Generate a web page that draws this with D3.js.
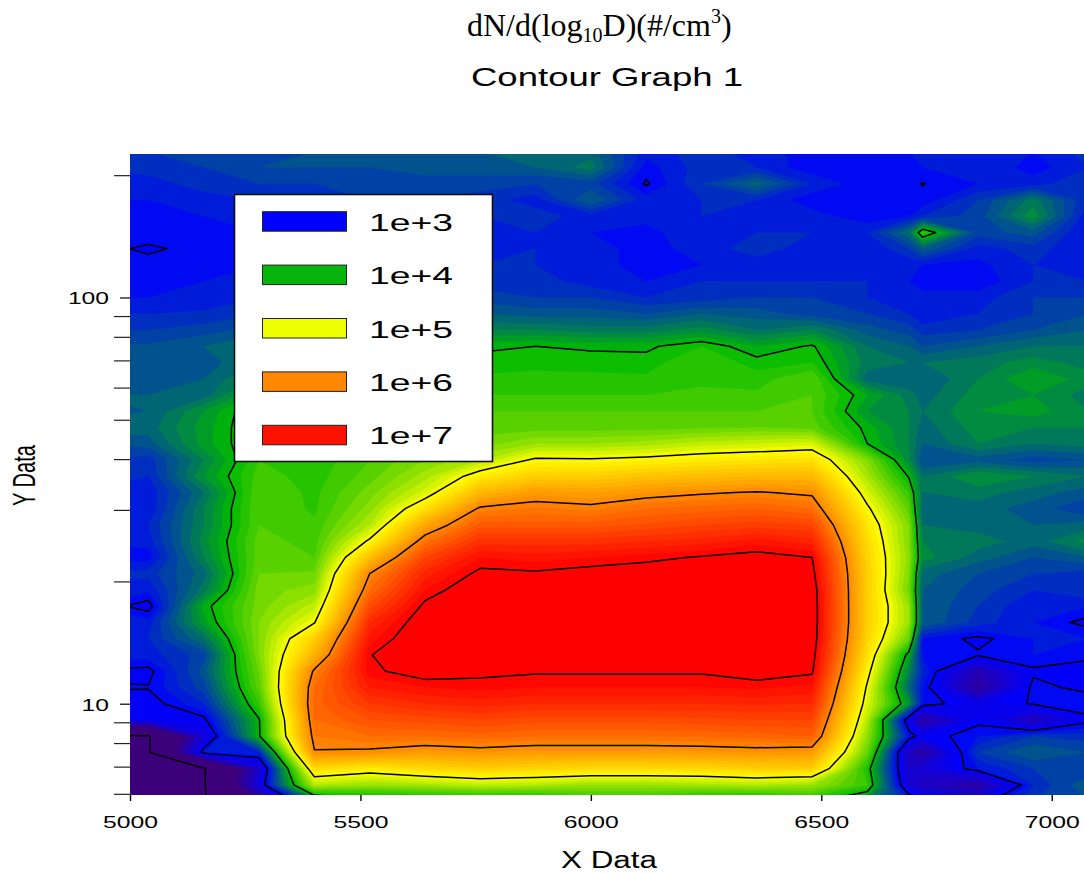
<!DOCTYPE html>
<html><head><meta charset="utf-8">
<script src="https://cdn.jsdelivr.net/npm/d3@7/dist/d3.min.js"></script>
<style>html,body{margin:0;padding:0;background:#fff}svg{display:block}</style>
</head><body><svg id="c" width="1084" height="873"></svg>
<script>
const titleTop = ["dN/d(log", "10", "D)(#/cm", "3", ")"];
const titleMain = "Contour Graph 1";
const xLabel = "X Data";
const yLabel = "Y Data";
const xTickValues = [5000, 5500, 6000, 6500, 7000];
const yMajorTicks = [10, 100];
const yMinorTicks = [6, 7, 8, 9, 20, 30, 40, 50, 60, 70, 80, 90, 200];
const legendLabels = ["1e+3", "1e+4", "1e+5", "1e+6", "1e+7"];
const legendColors = ["#0000ff", "#05b50c", "#eeff00", "#ff8800", "#ff1100"];
const lineLevels = [1.05, 3, 4, 5, 6, 7];
const colorLevels = [2, 3, 4, 5, 6, 7];
const colorStops = ["#3c007a", "#0000ff", "#00b900", "#ffff00", "#ff8800", "#ff0000"];

// sampled positions of the grid
const xValues = [4920, 5040, 5160, 5280, 5400, 5520, 5640, 5760, 5880, 6000, 6120, 6240, 6360, 6480, 6600, 6690, 6720, 6840, 6960, 7080];
const yValues = [5.75, 6.31, 6.92, 7.59, 8.32, 9.12, 10, 10.96, 12.02, 13.18, 14.45, 15.85, 17.38, 19.05, 20.89, 22.91, 25.12, 27.54, 30.2, 33.11, 36.31, 39.81, 43.65, 47.86, 52.48, 57.54, 63.1, 69.18, 75.86, 83.18, 91.2, 100, 109.6, 120.2, 131.8, 144.5, 158.5, 173.8, 190.5, 208.9, 229.1];
// log10 of dN/d(log10 D), one line for each entry of yValues
const logN = [
[1,1,1,2.0,3.6,3.8,3.85,3.85,3.85,4.1,4.1,3.9,3.85,4.05,3.7,3.2,3.1,2.9,3.3,3.4],
[1,1,1,2.8,4.7,4.6,4.65,4.75,4.7,4.6,4.6,4.65,4.7,4.6,4.2,2.7,2.5,2.3,3.2,3.5],
[1,1,1,2.6,5.3,5.15,5.3,5.4,5.35,5.3,5.3,5.3,5.4,5.4,4.1,2.6,2.7,3.1,3.3,3.3],
[1,1,3.1,3.2,5.98,5.95,5.85,5.9,5.85,5.85,5.85,5.87,5.9,5.85,4.4,2.5,2.3,3.3,3.5,3.4],
[1,1,2.7,3.97,6.1,6.2,6.2,6.25,6.2,6.2,6.2,6.22,6.25,6.3,4.55,3.1,2.9,3.1,3.3,3.25],
[2.9,2.9,2.95,3.98,6.2,6.4,6.45,6.5,6.45,6.45,6.45,6.47,6.5,6.5,4.7,2.8,2.3,2.95,2.45,2.95],
[2.95,2.92,3.2,4.2,6.25,6.6,6.7,6.75,6.7,6.7,6.7,6.7,6.72,6.7,4.85,3.8,3.1,2.85,3.02,3.1],
[3.01,3.01,3.35,4.35,6.2,6.8,6.9,6.93,6.9,6.9,6.9,6.9,6.92,6.87,4.95,3.55,3.1,2.25,3.05,2.95],
[2.98,2.95,3.45,4.4,6.05,6.96,7.1,7.05,7.02,7.02,7.02,7.02,7.1,7.03,5.1,3.7,3.2,2.4,2.97,2.9],
[3.15,3.15,3.35,4.5,5.65,6.99,7.2,7.2,7.15,7.15,7.15,7.15,7.2,7.1,5.25,3.9,3.1,3.02,3.1,3.05],
[3.15,3.2,3.6,4.5,5.4,6.85,7.2,7.3,7.25,7.27,7.27,7.27,7.3,7.15,5.35,4.4,3.1,2.96,3.1,3.1],
[3.1,3.15,3.85,4.5,4.98,6.7,7.15,7.32,7.3,7.32,7.33,7.35,7.37,7.17,5.4,4.6,3.5,3.25,3.1,2.95],
[3.1,2.93,3.93,4.45,4.75,6.45,7.05,7.25,7.27,7.28,7.3,7.33,7.36,7.17,5.4,4.6,3.5,3.3,3.1,3.1],
[3.12,3.12,3.65,4.45,4.55,6.2,6.9,7.17,7.17,7.2,7.22,7.27,7.3,7.15,5.4,4.45,3.5,3.35,3.2,3.3],
[3.2,3.25,3.55,4.4,4.42,6.0,6.75,7.05,7.03,7.08,7.12,7.17,7.2,7.08,5.4,4.5,3.55,3.4,3.3,3.25],
[3.08,3.05,3.7,4.35,4.3,5.55,6.5,6.9,6.85,6.9,6.95,7.02,7.08,7.0,5.35,4.55,3.75,3.55,3.4,3.5],
[3.1,3.15,3.75,4.35,4.25,5.05,6.15,6.65,6.65,6.65,6.7,6.75,6.85,6.75,5.3,4.5,3.7,3.65,3.55,3.75],
[3.2,3.2,3.7,4.3,4.22,4.7,5.75,6.35,6.35,6.35,6.42,6.5,6.55,6.5,5.2,4.5,3.6,3.55,3.5,3.55],
[3.12,3.12,3.7,4.3,4.18,4.55,5.25,6.05,6.12,6.07,6.2,6.25,6.3,6.2,5.05,4.35,3.55,3.55,3.45,3.3],
[3.2,3.12,3.6,4.3,4.17,4.45,4.85,5.6,5.85,5.8,5.9,5.97,6.02,5.95,4.85,4.2,3.6,3.65,3.55,3.45],
[3.2,3.2,3.8,4.25,4.15,4.35,4.65,5.15,5.4,5.4,5.5,5.55,5.6,5.6,4.65,3.98,3.6,3.8,3.7,3.6],
[3.3,3.25,3.7,4.2,4.13,4.3,4.5,4.7,5.05,5.03,5.08,5.15,5.2,5.25,4.5,3.74,3.4,3.45,3.35,3.4],
[3.4,3.45,3.85,4.15,4.12,4.25,4.4,4.45,4.6,4.6,4.65,4.75,4.8,4.85,4.0,3.7,3.5,3.7,3.6,3.65],
[3.55,3.55,3.85,4.15,4.15,4.25,4.35,4.35,4.35,4.35,4.35,4.38,4.4,4.35,3.95,3.7,3.55,3.75,3.7,3.7],
[3.45,3.5,3.8,4.15,4.12,4.2,4.3,4.3,4.3,4.3,4.3,4.3,4.3,4.3,3.8,3.7,3.6,3.8,3.85,3.7],
[3.5,3.5,3.55,3.95,4.1,4.15,4.2,4.2,4.2,4.2,4.2,4.22,4.22,4.3,3.9,3.65,3.55,3.75,3.8,3.65],
[3.45,3.45,3.5,3.75,3.95,4.1,4.12,4.12,4.12,4.12,4.12,4.18,4.15,4.3,3.55,3.5,3.5,3.7,3.9,3.75],
[3.4,3.42,3.45,3.6,3.9,4.02,4.05,4.05,4.08,4.07,4.05,4.2,4.05,4.1,3.65,3.6,3.6,3.65,3.75,3.65],
[3.42,3.42,3.5,3.65,3.8,3.9,3.95,3.97,4.0,3.97,3.97,4.1,3.9,4.02,3.6,3.5,3.4,3.5,3.6,3.6],
[3.3,3.3,3.35,3.45,3.55,3.6,3.65,3.7,3.7,3.65,3.65,3.75,3.6,3.7,3.45,3.35,3.25,3.3,3.4,3.5],
[3.2,3.2,3.22,3.3,3.35,3.45,3.45,3.5,3.45,3.45,3.4,3.5,3.45,3.35,3.3,3.2,3.1,3.2,3.3,3.4],
[3.1,3.1,3.12,3.2,3.25,3.3,3.3,3.35,3.3,3.3,3.2,3.25,3.3,3.3,3.2,3.18,3.15,3.15,3.3,3.3],
[3.08,3.05,3.1,3.15,3.2,3.22,3.22,3.25,3.25,3.15,3.1,3.2,3.2,3.2,3.2,3.1,3.03,3.03,3.2,3.2],
[3.04,3.03,3.05,3.1,3.15,3.18,3.18,3.2,3.2,3.12,3.08,3.1,3.15,3.15,3.15,3.12,3.1,3.07,3.2,3.1],
[3.03,2.985,3.03,3.08,3.1,3.15,3.15,3.15,3.2,3.15,3.05,3.15,3.25,3.15,3.1,3.3,3.5,3.15,3.25,3.1],
[3.04,3.04,3.05,3.1,3.12,3.15,3.15,3.15,3.2,3.1,3.08,3.15,3.2,3.2,3.2,3.6,4.2,3.35,3.45,3.06],
[3.06,3.05,3.1,3.15,3.15,3.2,3.2,3.2,3.25,3.15,3.12,3.2,3.15,3.15,3.03,3.1,3.2,3.35,3.78,3.1],
[3.1,3.1,3.15,3.2,3.25,3.3,3.3,3.25,3.15,3.5,3.15,3.2,3.2,3.03,3.02,3.02,3.03,3.3,3.65,3.2],
[3.12,3.15,3.25,3.3,3.3,3.35,3.35,3.35,3.3,3.35,2.98,3.3,3.55,3.2,3.03,3.03,2.995,3.1,3.15,3.3],
[3.2,3.25,3.3,3.4,3.4,3.4,3.45,3.45,3.5,3.65,3.05,3.25,3.2,3.03,3.02,3.06,3.1,3.2,3.05,3.2],
[3.25,3.3,3.3,3.35,3.4,3.45,3.45,3.5,3.6,3.55,3.15,3.25,3.15,3.05,3.03,3.1,3.15,3.2,3.1,3.25]
];

const svg = d3.select("#c");
const sans = "'Liberation Sans', Arial, sans-serif";
const x = d3.scaleLinear().domain([5000, 7070]).range([130, 1084]);
const y = d3.scaleLog().domain([5.96, 225.5]).range([795, 154]);
const color = d3.scaleLinear().domain(colorLevels).range(colorStops).clamp(true);

const colOf = d3.scaleLinear().domain(xValues.map((d, i) => i)).range(xValues.map(d => x(d)));
const rowOf = d3.scaleLinear().domain(yValues.map((d, i) => i)).range(yValues.map(d => y(d)));
const path = d3.geoPath(d3.geoTransform({
  point(a, b) { this.stream.point(colOf(a - 0.5), rowOf(b - 0.5)); }
}));

const nx = xValues.length, ny = yValues.length;
const flat = logN.flat();
const gen = d3.contours().size([nx, ny]).smooth(true);
const thresholds = d3.range(20, 71).map(d => d / 10);

svg.append("clipPath").attr("id", "plot").append("rect")
  .attr("x", x(5000)).attr("y", y(225.5)).attr("width", x(7070) - x(5000)).attr("height", y(5.96) - y(225.5));
const plot = svg.append("g").attr("clip-path", "url(#plot)");

plot.append("rect").attr("x", x(5000)).attr("y", y(225.5))
  .attr("width", x(7070) - x(5000)).attr("height", y(5.96) - y(225.5)).attr("fill", color(2));
plot.selectAll("path.band").data(thresholds).join("path").attr("class", "band")
  .attr("d", t => path(gen.contour(flat, t)))
  .attr("fill", t => color(t >= 7 ? 7 : t + 0.05));
plot.selectAll("path.line").data(lineLevels).join("path").attr("class", "line")
  .attr("d", t => path(gen.contour(flat, t)))
  .attr("fill", "none").attr("stroke", "#000").attr("stroke-width", 1.5).attr("stroke-linejoin", "round");

function stretch(sel, w) { sel.attr("textLength", w).attr("lengthAdjust", "spacingAndGlyphs"); }

// axes
const gx = svg.append("g").attr("transform", `translate(0,${y(5.96)})`)
  .call(d3.axisBottom(x).tickValues(xTickValues).tickSize(6).tickPadding(14).tickFormat(d3.format("d")));
gx.select(".domain").remove();
gx.selectAll("line").attr("stroke", "#000").attr("stroke-width", 1.4);
gx.selectAll("text").attr("font-family", sans).attr("font-size", 17).attr("fill", "#000")
  .attr("y", 33).attr("dy", 0).call(stretch, 55);

const gyMinor = svg.append("g").attr("transform", `translate(${x(5000)},0)`)
  .call(d3.axisLeft(y).tickValues(yMinorTicks).tickSize(16).tickFormat(""));
gyMinor.select(".domain").remove();
gyMinor.selectAll("line").attr("stroke", "#222").attr("stroke-width", 1.2);

const gyMajor = svg.append("g").attr("transform", `translate(${x(5000)},0)`)
  .call(d3.axisLeft(y).tickValues(yMajorTicks).tickSize(10).tickPadding(11).tickFormat(d3.format("d")));
gyMajor.select(".domain").remove();
gyMajor.selectAll("line").attr("stroke", "#000").attr("stroke-width", 1.2);
gyMajor.selectAll("text").attr("font-family", sans).attr("font-size", 17).attr("fill", "#000")
  .attr("dy", 6.5).each(function (d) { d3.select(this).call(stretch, String(d).length * 13.7); });

// labels
svg.append("text").text(xLabel).attr("x", 609).attr("y", 868).attr("text-anchor", "middle")
  .attr("font-family", sans).attr("font-size", 23).call(stretch, 96);
svg.append("text").text(yLabel).attr("transform", "translate(35,475.5) rotate(-90)").attr("text-anchor", "middle")
  .attr("font-family", sans).attr("font-size", 31).call(stretch, 61);
svg.append("text").text(titleMain).attr("x", 471).attr("y", 86)
  .attr("font-family", sans).attr("font-size", 26).call(stretch, 272);

const t1 = svg.append("text").attr("x", 467).attr("y", 36)
  .attr("font-family", "'Liberation Serif', 'Times New Roman', serif").attr("font-size", 32);
const shifts = [0, 6, -6, -13, 13];
titleTop.forEach((s, i) => {
  t1.append("tspan").text(s).attr("dy", shifts[i]).attr("font-size", i % 2 ? 20 : 32);
});

// legend
const lg = svg.append("g");
lg.append("rect").attr("x", 234.5).attr("y", 194.5).attr("width", 258).attr("height", 267)
  .attr("fill", "#fff").attr("stroke", "#111").attr("stroke-width", 1.6);
const row = d3.scaleBand().domain(legendLabels).range([195, 462]);
legendLabels.forEach((lb, i) => {
  const cy = row(lb) + row.bandwidth() / 2;
  lg.append("rect").attr("x", 262.5).attr("y", cy - 10).attr("width", 84).attr("height", 19.5)
    .attr("fill", legendColors[i]).attr("stroke", "#222").attr("stroke-width", 1);
  lg.append("text").text(lb).attr("x", 369).attr("y", cy + 9)
    .attr("font-family", sans).attr("font-size", 24).call(stretch, 84);
});
</script></body></html>
